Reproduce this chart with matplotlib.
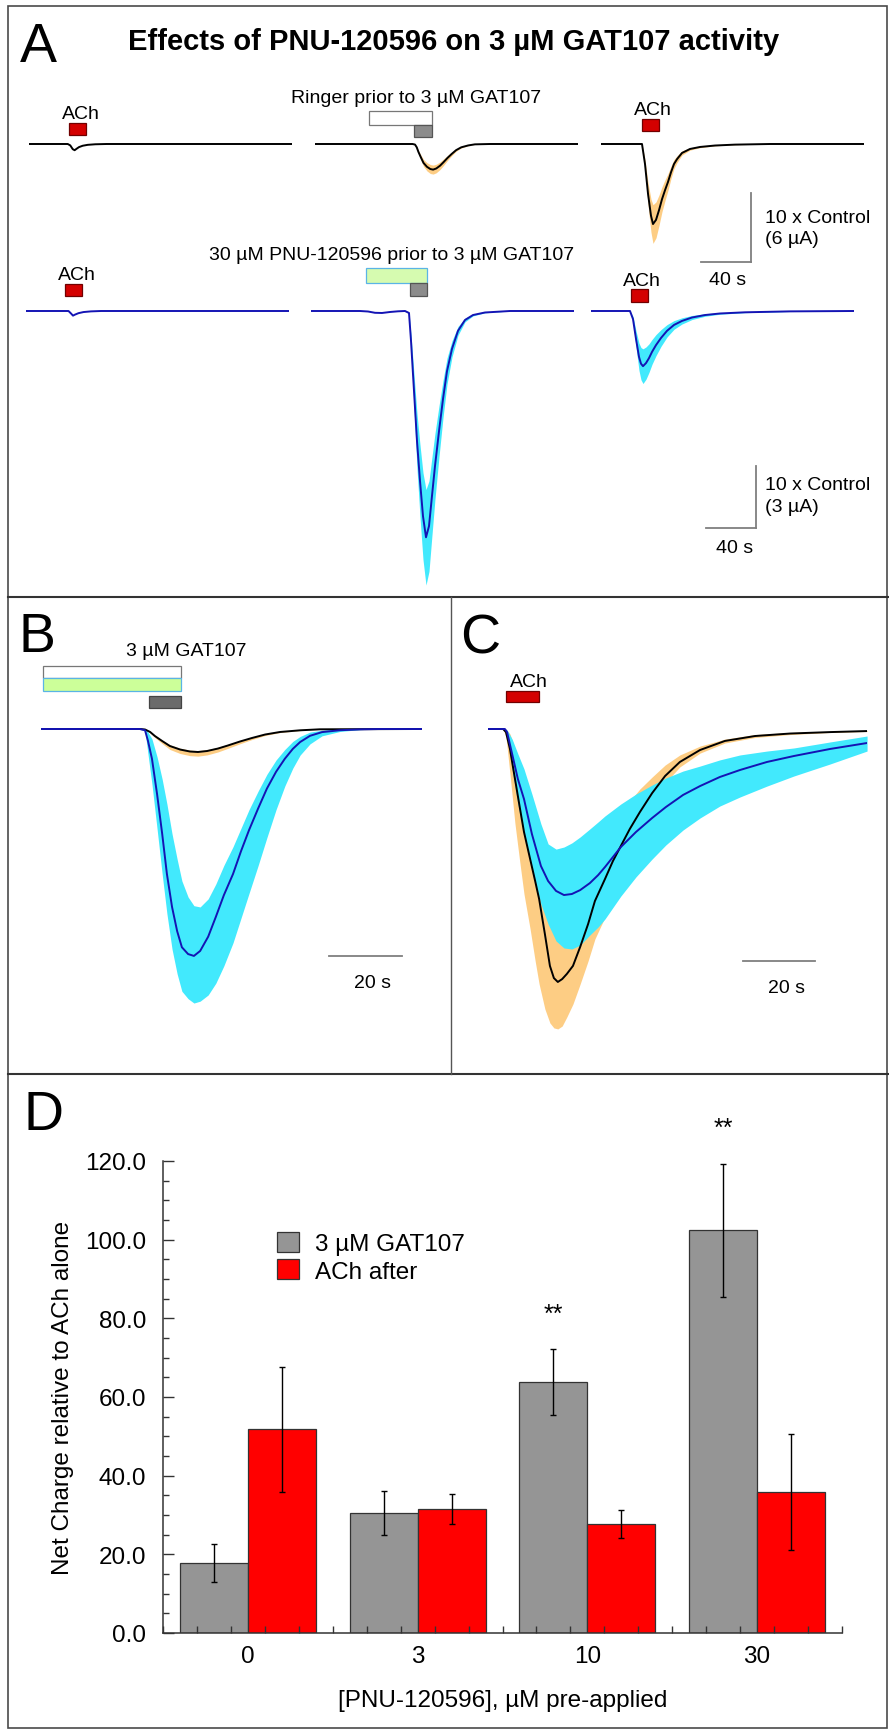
import numpy as np
import matplotlib
matplotlib.use("Agg")
import matplotlib.pyplot as plt
from matplotlib.patches import Rectangle
from matplotlib.lines import Line2D
from matplotlib.ticker import MultipleLocator

W, H = 889, 1731
plt.rcParams['font.family'] = ['Liberation Sans', 'DejaVu Sans']

BLACK = '#000000'
ORANGE = '#fdcd84'
BLUE = '#1414b4'
CYAN = '#42e9fd'
RED = '#d40000'
GREY_BOX = '#8c8c8c'
BAR_LINE = '#7f7f7f'

# ---------------- panel A : t in s, current in multiples of ACh control ----------------
# row 1, Ringer prior to 3 uM GAT107
a1_ctrl_t = [0, 31, 33, 35, 36.5, 38, 40, 43, 47, 53, 62, 210]
a1_ctrl_i = [0, 0, -0.2, -0.75, -0.9, -0.7, -0.45, -0.25, -0.12, -0.04, 0, 0]

a1_gat_t = [0, 78, 80, 81.4, 82.7, 84.7, 86.8, 89.6, 92.3, 94.5, 97, 100, 102.7, 106,
            109.3, 112.9, 117, 122.5, 127.9, 140, 210]
a1_gat_i = [0, 0, -0.08, -0.48, -1.13, -1.94, -2.74, -3.31, -3.63, -3.71, -3.55, -3.15,
            -2.66, -2.02, -1.45, -0.89, -0.48, -0.21, -0.05, 0, 0]
a1_gat_sem = [0, 0, 0.02, 0.1, 0.2, 0.35, 0.5, 0.6, 0.65, 0.65, 0.62, 0.55, 0.47, 0.36,
              0.26, 0.16, 0.09, 0.04, 0, 0, 0]

a1_after_t = [0, 32.8, 35.2, 37.6, 40, 41.6, 44, 46.4, 48.8, 51.2, 53.6, 56, 58.4, 60.8,
              64.8, 71.2, 79.2, 91.2, 107.2, 135.2, 210]
a1_after_i = [0, 0, -2.9, -7.2, -10.4, -11.6, -11.0, -9.6, -8.0, -6.7, -5.5, -4.1, -2.9,
              -2.2, -1.3, -0.72, -0.43, -0.22, -0.09, 0, 0]
a1_after_sem = [0, 0, 0.6, 1.6, 2.4, 2.8, 2.6, 2.2, 1.8, 1.5, 1.2, 0.9, 0.65, 0.5, 0.3,
                0.17, 0.1, 0.05, 0.02, 0, 0]

# row 2, 30 uM PNU-120596 prior to 3 uM GAT107
a2_ctrl_t = [0, 34, 36, 37.6, 39, 42, 46, 52, 60, 210]
a2_ctrl_i = [0, 0, -0.4, -0.75, -0.6, -0.35, -0.17, -0.06, 0, 0]

a2_gat_t = [0, 39.2, 45.6, 51.2, 56.8, 63.2, 69.6, 75.2, 78.4, 80, 82.4, 84.8, 87.2, 89.6,
            92, 94.4, 96.8, 99.2, 102.4, 105.6, 108.8, 112.8, 117.6, 123.2, 129.6, 139.2,
            159.2, 210]
a2_gat_i = [0, 0, -0.08, -0.29, -0.32, -0.16, -0.05, 0, -0.32, -4.8, -12.9, -21.0, -27.4,
            -33.1, -36.5, -34.7, -29.8, -25.0, -19.4, -14.2, -9.7, -6.1, -3.2, -1.45,
            -0.65, -0.24, 0, 0]
a2_gat_sem = [0, 0, 0, 0, 0, 0, 0, 0, 0.05, 1.0, 2.7, 4.4, 5.8, 7.0, 7.7, 7.3, 6.3, 5.3,
              4.1, 3.0, 2.1, 1.3, 0.7, 0.3, 0.14, 0.05, 0, 0]

a2_after_t = [0, 31.2, 33.6, 36, 38.4, 40, 41.6, 44, 46.4, 48.8, 52, 56, 60.8, 66.4, 72.8,
              80.8, 91.2, 103.2, 123.2, 159.2, 210]
a2_after_i = [0, 0, -1.3, -4.5, -7.4, -8.5, -8.9, -8.4, -7.6, -6.6, -5.5, -4.35, -3.2,
              -2.25, -1.6, -1.05, -0.65, -0.4, -0.21, -0.06, 0]
a2_after_sem = [0, 0, 0.4, 1.3, 2.2, 2.6, 2.8, 2.6, 2.3, 2.0, 1.7, 1.35, 1.0, 0.7, 0.5,
                0.33, 0.2, 0.12, 0.06, 0.02, 0]

# drug applications (start, end) in s
a1_ctrl_ach = (32.0, 45.6)
a1_ringer = (43.2, 93.6)
a1_gat = (79.2, 93.6)
a1_after_ach = (32.8, 46.4)
a2_ctrl_ach = (31.2, 44.8)
a2_pnu = (44.0, 92.8)
a2_gat = (79.2, 92.8)
a2_after_ach = (32.0, 45.6)

# ---------------- panel B : GAT107 responses overlaid ----------------
b_ringer_t = [0, 27.1, 28.5, 29.9, 31.2, 33.2, 35.3, 38.1, 40.8, 43.0, 45.5, 48.5, 51.2,
              54.5, 57.8, 61.4, 65.5, 71.0, 76.4, 104.4]
b_ringer_i = [0, 0, -0.08, -0.48, -1.13, -1.94, -2.74, -3.31, -3.63, -3.71, -3.55, -3.15,
              -2.66, -2.02, -1.45, -0.89, -0.48, -0.21, -0.05, 0]
b_ringer_hi = [0, 0, -0.07, -0.44, -1.05, -1.8, -2.55, -3.1, -3.4, -3.48, -3.33, -2.95,
               -2.48, -1.88, -1.35, -0.82, -0.44, -0.19, -0.04, 0]
b_ringer_lo = [0, 0, -0.1, -0.62, -1.38, -2.35, -3.3, -3.95, -4.3, -4.38, -4.18, -3.7,
               -3.12, -2.38, -1.7, -1.05, -0.57, -0.25, -0.06, 0]

b_pnu_t = [0, 27.1, 28.5, 29.3, 30.4, 31.8, 33.2, 34.5, 35.9, 37.3, 38.6, 40.3, 41.9, 43.6,
           45.8, 47.9, 50.1, 52.6, 54.8, 57.0, 59.5, 61.9, 64.4, 66.8, 69.0, 71.0, 73.7,
           77.0, 81.9, 87.4, 92.9, 104.4]
b_pnu_i = [0, 0, -0.2, -1.9, -4.8, -10.5, -16.9, -23.4, -28.7, -32.6, -35.2, -36.3, -36.6,
           -35.8, -33.5, -30.3, -26.8, -23.4, -19.7, -16.3, -12.8, -9.6, -6.9, -4.8, -3.2,
           -2.1, -1.1, -0.5, -0.2, -0.06, 0, 0]
b_pnu_hi = [0, 0, 0, -0.5, -1.6, -4.5, -8.1, -12.1, -16.9, -21.0, -24.5, -27.1, -28.5,
            -28.7, -27.4, -25.0, -22.0, -19.0, -16.0, -13.0, -10.0, -7.3, -5.0, -3.3, -2.0,
            -1.2, -0.5, -0.2, 0, 0, 0, 0]
b_pnu_lo = [0, 0, -0.3, -4.0, -8.9, -16.1, -23.4, -29.8, -35.5, -39.5, -42.3, -43.5, -44.2,
            -43.9, -42.9, -41.0, -38.2, -34.5, -30.5, -26.5, -22.0, -17.5, -13.0, -9.2,
            -6.3, -4.2, -2.4, -1.1, -0.4, -0.1, 0, 0]
b_pre = (0.5, 38.4)
b_gat = (29.6, 38.4)

# ---------------- panel C : ACh responses after GAT107 ----------------
c_ringer_t = [0, 4.2, 5.0, 6.1, 7.5, 8.9, 10.0, 11.7, 13.1, 14.2, 15.8, 17.2, 18.3, 19.4,
              20.6, 21.9, 23.6, 25.6, 27.8, 29.7, 32.5, 34.7, 36.9, 39.4, 42.2, 45.6, 49.2,
              53.3, 58.9, 65.8, 74.2, 83.9, 95.0, 105.3]
c_ringer_i = [0, 0, -0.15, -0.97, -2.43, -3.88, -5.0, -6.31, -7.38, -8.25, -9.95, -11.5,
              -12.09, -12.28, -12.14, -11.89, -11.5, -10.58, -9.47, -8.35, -7.28, -6.41,
              -5.68, -4.85, -4.03, -3.11, -2.28, -1.6, -1.02, -0.58, -0.34, -0.22, -0.15, -0.1]
c_ringer_hi = [0, 0, 0, -0.24, -0.97, -1.94, -2.91, -4.13, -5.1, -5.83, -7.28, -8.74, -9.47,
               -9.95, -9.95, -9.47, -8.74, -8.01, -7.04, -6.21, -5.44, -4.76, -4.13, -3.5,
               -2.91, -2.33, -1.75, -1.26, -0.83, -0.49, -0.27, -0.17, -0.12, -0.07]
c_ringer_lo = [0, 0, -0.39, -2.18, -4.61, -6.55, -8.01, -9.71, -11.26, -12.38, -13.59,
               -14.27, -14.51, -14.56, -14.42, -13.98, -13.35, -12.38, -11.26, -10.19,
               -9.13, -8.01, -7.04, -5.92, -4.85, -3.64, -2.62, -1.84, -1.17, -0.68, -0.41,
               -0.27, -0.17, -0.12]

c_pnu_t = [0, 4.7, 5.3, 6.7, 8.3, 10.0, 12.2, 14.7, 16.7, 18.9, 21.1, 23.3, 25.6, 28.3, 30.6,
           32.5, 36.9, 41.1, 45.6, 49.4, 54.2, 58.9, 64.4, 70.0, 77.5, 85.0, 95.0, 105.3]
c_pnu_i = [0, 0, -0.15, -1.21, -2.43, -3.4, -5.1, -6.65, -7.38, -7.86, -8.06, -8.01, -7.82,
           -7.48, -7.09, -6.7, -5.73, -5.0, -4.32, -3.79, -3.2, -2.77, -2.33, -1.99, -1.6,
           -1.31, -0.97, -0.68]
c_pnu_hi = [0, 0, -0.05, -0.49, -1.21, -1.94, -3.16, -4.61, -5.58, -5.83, -5.73, -5.53,
            -5.24, -4.85, -4.51, -4.22, -3.64, -3.16, -2.72, -2.38, -2.04, -1.8, -1.5, -1.26,
            -1.07, -0.92, -0.63, -0.34]
c_pnu_lo = [0, 0, -0.24, -1.94, -3.64, -5.1, -6.8, -8.5, -9.47, -10.29, -10.63, -10.68,
            -10.49, -10.0, -9.61, -9.22, -8.11, -7.18, -6.31, -5.63, -4.9, -4.32, -3.74,
            -3.3, -2.77, -2.28, -1.7, -1.07]
c_ach = (5.0, 14.2)

# scale bars
sb_time_a, sb_amp_a = 40, 10
sb_time_bc = 20

# ---------------- panel D : net charge ----------------
categories = ['0', '3', '10', '30']
gat_charge = [17.8, 30.4, 63.7, 102.4]
gat_err = [4.9, 5.6, 8.4, 16.9]
ach_charge = [51.8, 31.5, 27.6, 35.9]
ach_err = [15.9, 3.85, 3.55, 14.8]
signif = ['', '', '**', '**']

fig = plt.figure(figsize=(W / 100, H / 100), dpi=100)


def px_rect(x0, y0, x1, y1):
    return [x0 / W, 1 - y1 / H, (x1 - x0) / W, (y1 - y0) / H]


def fx(x):
    return x / W


def fy(y):
    return 1 - y / H


def trace_axes(x0, base, t_end, px_s, px_u, up=80, down=300):
    ax = fig.add_axes(px_rect(x0, base - up, x0 + t_end * px_s, base + down))
    ax.set_xlim(0, t_end)
    ax.set_ylim(-down / px_u, up / px_u)
    ax.axis('off')
    ax.patch.set_alpha(0)
    return ax


def trace(ax, t, i, lo=None, hi=None, line=BLACK, band=ORANGE, lw=1.4):
    if lo is not None:
        ax.fill_between(t, lo, hi, color=band, lw=0)
    ax.plot(t, i, color=line, lw=lw, solid_joinstyle='round')


def app_bar(ax, span, px_u, lo_px, hi_px, face, edge):
    ax.add_patch(Rectangle((span[0], lo_px / px_u), span[1] - span[0],
                           (hi_px - lo_px) / px_u, facecolor=face, edgecolor=edge,
                           lw=0.9, clip_on=False))


def sem_band(i, s):
    i, s = np.array(i), np.array(s)
    return i - s, i + s


def label(x, y, s, size=14, ha='center', **kw):
    fig.text(fx(x), fy(y), s, fontsize=size, ha=ha, va='baseline', **kw)


# ---------------- panel A ----------------
PX_S = 1.25
U1, U2 = 6.9, 6.2
ax11 = trace_axes(29, 145, 210, PX_S, U1)
ax12 = trace_axes(315, 145, 210, PX_S, U1)
ax13 = trace_axes(601, 145, 210, PX_S, U1)
ax21 = trace_axes(26, 312, 210, PX_S, U2)
ax22 = trace_axes(311, 312, 210, PX_S, U2)
ax23 = trace_axes(591, 312, 210, PX_S, U2)

trace(ax11, a1_ctrl_t, a1_ctrl_i)
lo, hi = sem_band(a1_gat_i, a1_gat_sem)
trace(ax12, a1_gat_t, a1_gat_i, lo, hi)
lo, hi = sem_band(a1_after_i, a1_after_sem)
trace(ax13, a1_after_t, a1_after_i, lo, hi)

trace(ax21, a2_ctrl_t, a2_ctrl_i, line=BLUE)
lo, hi = sem_band(a2_gat_i, a2_gat_sem)
trace(ax22, a2_gat_t, a2_gat_i, lo, hi, line=BLUE, band=CYAN)
lo, hi = sem_band(a2_after_i, a2_after_sem)
trace(ax23, a2_after_t, a2_after_i, lo, hi, line=BLUE, band=CYAN)

app_bar(ax11, a1_ctrl_ach, U1, 9, 21, RED, '#700000')
app_bar(ax12, a1_ringer, U1, 19, 33, 'white', '#777777')
app_bar(ax12, a1_gat, U1, 7, 19, GREY_BOX, '#555555')
app_bar(ax13, a1_after_ach, U1, 13, 25, RED, '#700000')
app_bar(ax21, a2_ctrl_ach, U2, 15, 27, RED, '#700000')
app_bar(ax22, a2_pnu, U2, 28, 43, '#d6fbb0', '#5ab4e6')
app_bar(ax22, a2_gat, U2, 15, 28, GREY_BOX, '#555555')
app_bar(ax23, a2_after_ach, U2, 9, 22, RED, '#700000')


def scale_bar(ax, corner_t, corner_y, t_len, amp=None):
    ax.plot([corner_t - t_len, corner_t], [corner_y, corner_y], color=BAR_LINE, lw=1.3,
            clip_on=False)
    if amp is not None:
        ax.plot([corner_t, corner_t], [corner_y, corner_y + amp], color=BAR_LINE, lw=1.3,
                clip_on=False)


scale_bar(ax13, (751 - 601) / PX_S, -(263 - 145) / U1, sb_time_a, sb_amp_a)
scale_bar(ax23, (756 - 591) / PX_S, -(529 - 312) / U2, sb_time_a, sb_amp_a)

fig.text(fx(38), fy(62), 'A', fontsize=40, ha='center', va='baseline')
label(454, 50, 'Effects of PNU-120596 on 3 µM GAT107 activity', size=21, weight='bold')
label(416, 103, 'Ringer prior to 3 µM GAT107')
label(392, 260, '30 µM PNU-120596 prior to 3 µM GAT107')
label(81, 119, 'ACh')
label(653, 115, 'ACh')
label(77, 280, 'ACh')
label(642, 286, 'ACh')
label(765, 223, '10 x Control', ha='left')
label(765, 244, '(6 µA)', ha='left')
label(728, 285, '40 s')
label(765, 490, '10 x Control', ha='left')
label(765, 512, '(3 µA)', ha='left')
label(735, 553, '40 s')

# ---------------- panel B ----------------
UB, PX_SB = 6.2, 3.65
axB = trace_axes(41, 730, 104.4, PX_SB, UB)
axB.fill_between(b_ringer_t, b_ringer_lo, b_ringer_hi, color=ORANGE, lw=0)
axB.fill_between(b_pnu_t, b_pnu_lo, b_pnu_hi, color=CYAN, lw=0)
axB.plot(b_ringer_t, b_ringer_i, color=BLACK, lw=1.4)
axB.plot(b_pnu_t, b_pnu_i, color=BLUE, lw=1.4)
app_bar(axB, b_pre, UB, 51, 63, 'white', '#777777')
app_bar(axB, b_pre, UB, 38, 51, '#ccff99', '#5ab4e6')
app_bar(axB, b_gat, UB, 21, 33, '#6b6b6b', '#444444')
scale_bar(axB, (402 - 41) / PX_SB, -(957 - 730) / UB, sb_time_bc)
fig.text(fx(37), fy(652), 'B', fontsize=40, ha='center', va='baseline')
label(186, 656, '3 µM GAT107')
label(373, 988, '20 s')

# ---------------- panel C ----------------
UC, PX_SC = 20.6, 3.6
axC = trace_axes(488, 730, 105.3, PX_SC, UC)
axC.fill_between(c_ringer_t, c_ringer_lo, c_ringer_hi, color=ORANGE, lw=0)
axC.fill_between(c_pnu_t, c_pnu_lo, c_pnu_hi, color=CYAN, lw=0)
axC.plot(c_ringer_t, c_ringer_i, color=BLACK, lw=1.4)
axC.plot(c_pnu_t, c_pnu_i, color=BLUE, lw=1.4)
app_bar(axC, c_ach, UC, 27, 38, RED, '#700000')
scale_bar(axC, (815 - 488) / PX_SC, -(962 - 730) / UC, sb_time_bc)
fig.text(fx(480), fy(653), 'C', fontsize=40, ha='center', va='baseline')
label(529, 687, 'ACh')
label(786, 993, '20 s')

# ---------------- panel D ----------------
axD = fig.add_axes(px_rect(163, 1162, 842, 1634))
xc = np.arange(len(categories)) + 0.5
err_kw = dict(ecolor='black', elinewidth=1, capsize=2, capthick=1)
bars_g = axD.bar(xc - 0.2, gat_charge, 0.4, yerr=gat_err, color='#959595',
                 edgecolor='#333333', lw=0.9, error_kw=err_kw)
bars_r = axD.bar(xc + 0.2, ach_charge, 0.4, yerr=ach_err, color='#ff0000',
                 edgecolor='#333333', lw=0.9, error_kw=err_kw)
for x, v, e, s in zip(xc - 0.2, gat_charge, gat_err, signif):
    if s:
        axD.text(x, v + e + 6, s, ha='center', va='bottom', fontsize=18)
axD.set_xlim(0, 4)
axD.set_ylim(0, 120)
for side in ['top', 'right']:
    axD.spines[side].set_visible(False)
for side in ['left', 'bottom']:
    axD.spines[side].set_color('#333333')
    axD.spines[side].set_linewidth(1.1)
axD.set_yticks(np.arange(0, 121, 20))
axD.set_yticklabels(['%.1f' % v for v in np.arange(0, 121, 20)])
axD.yaxis.set_minor_locator(MultipleLocator(5))
axD.tick_params(axis='y', which='major', direction='in', length=8, width=1,
                labelsize=17.5, pad=12, color='#333333')
axD.tick_params(axis='y', which='minor', direction='in', length=4, width=1,
                color='#333333')
axD.set_xticks(xc)
axD.set_xticklabels(categories)
axD.set_xticks(np.arange(0, 4.01, 0.2), minor=True)
axD.tick_params(axis='x', which='major', length=0, labelsize=17.5, pad=9)
axD.tick_params(axis='x', which='minor', direction='in', length=5, width=1,
                color='#333333')
axD.set_ylabel('Net Charge relative to ACh alone', fontsize=17.5)
axD.yaxis.set_label_coords(-0.131, 0.5)
axD.set_xlabel('[PNU-120596], µM pre-applied', fontsize=17.5)
axD.xaxis.set_label_coords(0.5, -0.118)
axD.legend([bars_g, bars_r], ['3 µM GAT107', 'ACh after'], loc='upper left',
           bbox_to_anchor=((277 - 163) / 679, (1634 - 1233) / 472), frameon=False,
           borderpad=0, borderaxespad=0, handlelength=0.9, handleheight=0.9,
           handletextpad=0.65, labelspacing=0.15, fontsize=17.5)
fig.text(fx(43), fy(1130), 'D', fontsize=40, ha='center', va='baseline')

# ---------------- panel frames ----------------
FRAME = '#4a4a4a'
fig.add_artist(Rectangle((fx(8), fy(1729)), fx(887) - fx(8), fy(7) - fy(1729),
                         transform=fig.transFigure, fill=False, edgecolor=FRAME, lw=1.2))
fig.add_artist(Line2D([fx(8), fx(889)], [fy(598), fy(598)], color='#333333', lw=1.5))
fig.add_artist(Line2D([fx(8), fx(889)], [fy(1075), fy(1075)], color='#333333', lw=1.5))
fig.add_artist(Line2D([fx(451), fx(451)], [fy(598), fy(1075)], color='#555555', lw=1.0))

fig.savefig('out.png', dpi=100)
